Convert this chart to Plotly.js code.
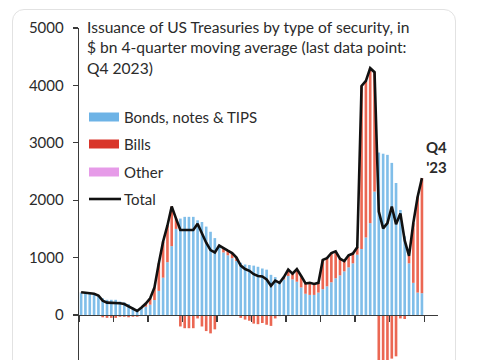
<!DOCTYPE html>
<html><head><meta charset="utf-8">
<script src="https://cdn.plot.ly/plotly-3.0.1.min.js"></script>
<style>
html,body{margin:0;padding:0;background:#fff;overflow:hidden;width:485px;height:360px;}
#card{position:absolute;left:12px;top:9px;width:444px;height:420px;border:1px solid #e2e2e2;border-radius:12px;box-sizing:border-box;}
#chart{position:absolute;left:0;top:0;width:485px;height:360px;}
</style></head><body>
<div id="card"></div><div id="chart"></div>
<script>
// Quarter categories Q1 2004 .. Q4 2023 (mid-quarter dates)
const years = [2004,2005,2006,2007,2008,2009,2010,2011,2012,2013,2014,2015,2016,2017,2018,2019,2020,2021,2022,2023];
const quarterMid = ['02-15','05-16','08-16','11-15'];
const quarters = [];
years.forEach(y => quarterMid.forEach(m => quarters.push(y + '-' + m)));

// $ bn, 4-quarter moving average
const bonds = [390,380,375,365,340,290,265,265,265,235,220,190,130,100,115,145,
  180,260,420,650,920,1200,1500,1680,1710,1710,1710,1650,1620,1540,1450,1340,
  1200,1090,1040,990,940,910,880,870,860,840,810,790,700,660,580,620,
  680,620,580,480,370,350,350,390,450,500,570,640,690,760,830,900,
  1050,1150,1350,1600,2150,2830,2810,2790,2650,2300,1830,1370,900,560,390,380];
const bills = [5,5,5,5,0,-40,-50,-50,-50,-30,-30,-40,-30,-30,15,55,
  110,220,480,630,640,690,180,-200,-230,-230,-230,-60,-200,-280,-320,-250,
  10,70,80,90,60,-50,-80,-100,-150,-160,-140,-170,-190,-60,-20,40,
  110,100,220,200,180,210,190,170,510,490,510,470,290,180,210,170,
  130,2840,2730,2700,2080,-1030,-1300,-1190,-760,-720,-60,-70,130,1040,1670,2005];
const other = [0,0,0,0,0,0,0,0,0,0,0,0,0,0,0,0,
  0,0,0,0,0,0,0,0,0,0,0,0,0,0,0,0,
  0,0,0,0,0,0,0,0,0,0,0,0,0,0,0,0,
  0,0,0,0,0,0,0,0,0,0,0,0,0,0,0,0,
  0,0,0,0,0,0,0,0,0,0,0,0,0,0,0,0];
const total = [395,385,380,370,340,250,215,215,215,205,190,150,100,70,130,200,
  290,480,900,1280,1560,1890,1680,1480,1480,1480,1480,1590,1420,1260,1130,1090,
  1210,1160,1120,1080,1000,860,800,770,710,680,670,620,510,600,560,660,
  790,720,800,680,550,560,540,560,960,990,1080,1110,980,940,1040,1070,
  1180,3990,4080,4300,4230,1800,1510,1600,1890,1580,1770,1300,1030,1600,2060,2385];
const yTicks = [0,1000,2000,3000,4000,5000];
const seriesNames = ['Bonds, notes & TIPS','Bills','Other','Total'];
const colors = {bonds:'#80bee9', bills:'#eb6753', other:'#e59ce8', total:'#111111',
  legBonds:'#6db3e6', legBills:'#d9352a', legOther:'#e69be8'};

const yMin = -784, yMax = 5000;
const W = 485, H = 360, L = 79, R = 438, T = 28, B = 360;
const px = x => (x - L) / (R - L);
const py = y => 1 - (y - T) / (B - T);
const font = 'Lato, "Open Sans", sans-serif';
const txt = '#2b2b2b';

const traces = [
  {type:'bar', name:seriesNames[0], x:quarters, y:bonds, marker:{color:colors.bonds, line:{width:0}}},
  {type:'bar', name:seriesNames[1], x:quarters, y:bills, marker:{color:colors.bills, line:{width:0}}},
  {type:'bar', name:seriesNames[2], x:quarters, y:other, marker:{color:colors.other, line:{width:0}}},
  {type:'scatter', mode:'lines', name:seriesNames[3], x:quarters, y:total, line:{color:colors.total, width:2.6}}
];

const legY = [117, 144, 172];
const legCols = [colors.legBonds, colors.legBills, colors.legOther];
const shapes = legY.map((yy, k) => ({type:'rect', xref:'paper', yref:'paper',
  x0:px(89), x1:px(119), y0:py(yy+4.5), y1:py(yy-4.5), fillcolor:legCols[k], line:{width:0}}));
shapes.push({type:'line', xref:'paper', yref:'paper', x0:px(89), x1:px(121), y0:py(199), y1:py(199),
  line:{color:colors.total, width:2.6}});

const annotations = [117,144,172,199].map((yy, k) => ({xref:'paper', yref:'paper', x:px(122), y:py(yy),
  xanchor:'left', yanchor:'middle', showarrow:false, text:seriesNames[k], font:{family:font, size:15, color:txt}}));
annotations.push({xref:'x', yref:'y', x:'2024-09-20', y:2745, xanchor:'center', yanchor:'middle', showarrow:false,
  text:"<b>Q4</b><br><b>'23</b>", font:{family:font, size:15, color:txt}});

const layout = {
  width:W, height:H, margin:{l:L, r:W-R, t:T, b:H-B, pad:0},
  paper_bgcolor:'rgba(0,0,0,0)', plot_bgcolor:'rgba(0,0,0,0)',
  barmode:'relative', bargap:0.38, showlegend:false,
  title:{text:'Issuance of US Treasuries by type of security, in<br>$ bn 4-quarter moving average (last data point:<br>Q4 2023)',
    font:{family:font, size:15.6, color:txt}, xref:'paper', x:px(87), xanchor:'left', yref:'container', y:1-33/H, yanchor:'top'},
  xaxis:{type:'date', range:['2004-01-01','2024-10-20'], tick0:'2004-01-01', dtick:'M24', ticks:'outside', ticklen:6,
    tickcolor:'#3a3a3a', tickwidth:1.3, showticklabels:false, showgrid:false, zeroline:false, showline:true,
    linecolor:'#3a3a3a', linewidth:1.3, anchor:'free', position:(0 - yMin)/(yMax - yMin), automargin:false},
  yaxis:{range:[yMin, yMax], tickvals:yTicks, ticks:'outside', ticklen:5, tickcolor:'#3a3a3a', tickwidth:1.3,
    showline:true, linecolor:'#3a3a3a', linewidth:1.3, showgrid:false, zeroline:false, automargin:false,
    ticklabelstandoff:6, tickfont:{family:font, size:15, color:txt}},
  shapes:shapes, annotations:annotations
};
Plotly.newPlot('chart', traces, layout, {displayModeBar:false, staticPlot:true});
</script></body></html>
